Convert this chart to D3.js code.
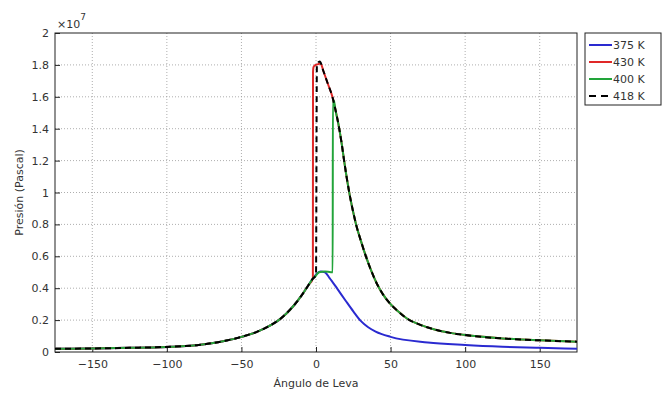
<!DOCTYPE html>
<html>
<head>
<meta charset="utf-8">
<script src="https://cdn.jsdelivr.net/npm/d3@7"></script>
<style>
  body { margin: 0; background: #fff; }
  svg { display: block; font-family: "DejaVu Sans", sans-serif; }
</style>
</head>
<body>
<svg id="chart" width="664" height="394"></svg>
<script>
// ---- Data (pressure in units of 1e7 Pa, angle in degrees) ----
const xTicks = [-150, -100, -50, 0, 50, 100, 150];
const yTicks = [0, 0.2, 0.4, 0.6, 0.8, 1, 1.2, 1.4, 1.6, 1.8, 2];
const seriesNames = ["375 K", "430 K", "400 K", "418 K"];
const seriesColors = ["#2a2ad0", "#e02828", "#22a43a", "#000000"];

// shared compression stroke
const compAngles = [-175, -150, -125, -100, -90, -80, -70, -60, -50, -40, -30, -25, -20, -15, -10, -5, -2.1];
const compValues = [0.02, 0.022, 0.026, 0.032, 0.036, 0.043, 0.055, 0.072, 0.095, 0.125, 0.17, 0.20, 0.24, 0.29, 0.35, 0.42, 0.46];

// motoring (375 K) after TDC
const blueAngles = [0, 3, 6, 9, 14, 20, 25, 30, 35, 40, 50, 75, 100, 125, 150, 175];
const blueValues = [0.485, 0.505, 0.50, 0.465, 0.40, 0.32, 0.255, 0.195, 0.155, 0.128, 0.095, 0.06, 0.044, 0.033, 0.026, 0.02];

// combustion peaks
const redAngles = [-2, -1.7, -1, 0, 1.5, 3];
const redValues = [1.755, 1.785, 1.795, 1.80, 1.805, 1.81];
const blackAngles = [0, 0.6, 2.5];
const blackValues = [0.48, 1.80, 1.822];
const greenAngles = [0, 2, 6, 10, 11.2, 11.3, 12];
const greenValues = [0.48, 0.50, 0.505, 0.50, 0.50, 1.58, 1.575];

// shared expansion stroke
const expAngles = [2.5, 5, 8, 11, 13, 15, 17, 19, 21, 23, 25, 27, 30, 34, 37, 41, 45, 50, 55, 61, 70, 80, 90, 100, 125, 150, 175];
const expValues = [1.82, 1.76, 1.68, 1.60, 1.52, 1.43, 1.32, 1.19, 1.07, 0.965, 0.875, 0.795, 0.70, 0.585, 0.51, 0.425, 0.36, 0.30, 0.255, 0.21, 0.17, 0.14, 0.12, 0.106, 0.085, 0.073, 0.065];

// ---- Build series ----
const zip = (a, v) => a.map((x, i) => [x, v[i]]);
const comp = zip(compAngles, compValues);
const exp = zip(expAngles, expValues);
const blue = comp.concat(zip(blueAngles, blueValues));
const red = comp.concat(zip(redAngles, redValues), exp.filter(d => d[0] > 3));
const green = comp.concat(zip(greenAngles, greenValues), exp.filter(d => d[0] > 12));
const black = comp.concat(zip(blackAngles, blackValues), exp.filter(d => d[0] > 2.5));
const series = [blue, red, green, black];

// ---- Layout ----
const svg = d3.select("#chart");
const m = { left: 55, right: 577, top: 33, bottom: 352 };
const x = d3.scaleLinear().domain([-175, 175]).range([m.left, m.right]);
const y = d3.scaleLinear().domain([0, 2]).range([m.bottom, m.top]);
const textColor = "#333";

// grid
const grid = svg.append("g");
grid.selectAll(".gx").data(xTicks).enter().append("line")
  .attr("x1", d => x(d)).attr("x2", d => x(d))
  .attr("y1", m.top).attr("y2", m.bottom)
  .attr("stroke", "#999").attr("stroke-width", 0.8).attr("stroke-dasharray", "1,2");
grid.selectAll(".gy").data(yTicks.filter(d => d > 0 && d < 2)).enter().append("line")
  .attr("x1", m.left).attr("x2", m.right)
  .attr("y1", d => y(d)).attr("y2", d => y(d))
  .attr("stroke", "#999").attr("stroke-width", 0.8).attr("stroke-dasharray", "1,2");

// axes
const xAxis = d3.axisBottom(x).tickValues(xTicks).tickSize(-5).tickPadding(8)
  .tickFormat(d => d < 0 ? "\u2212" + Math.abs(d) : d);
const yAxis = d3.axisLeft(y).tickValues(yTicks).tickSize(-5).tickPadding(6)
  .tickFormat(d => d3.format("~g")(d));
const gx = svg.append("g").attr("transform", `translate(0,${m.bottom})`).call(xAxis);
const gy = svg.append("g").attr("transform", `translate(${m.left},0)`).call(yAxis);
[gx, gy].forEach(g => {
  g.select(".domain").remove();
  g.selectAll("line").attr("stroke", "#222");
  g.selectAll("text").attr("fill", textColor).style("font-size", "11px").style("font-family", "DejaVu Sans, sans-serif");
});

// frame
svg.append("rect").attr("x", m.left).attr("y", m.top)
  .attr("width", m.right - m.left).attr("height", m.bottom - m.top)
  .attr("fill", "none").attr("stroke", "#222").attr("stroke-width", 1);

// lines
const line = d3.line().x(d => x(d[0])).y(d => y(d[1])).curve(d3.curveMonotoneX);
series.forEach((s, i) => {
  svg.append("path").datum(s)
    .attr("fill", "none")
    .attr("stroke", seriesColors[i])
    .attr("stroke-width", 2)
    .attr("stroke-linejoin", "round")
    .attr("stroke-dasharray", i === 3 ? "6,4" : null)
    .attr("d", line);
});

// exponent label
const ex = svg.append("text").attr("x", m.left + 2).attr("y", m.top - 5)
  .attr("fill", textColor).style("font-size", "11px");
ex.append("tspan").text("\u00d710");
ex.append("tspan").attr("dy", -8).style("font-size", "9px").text("7");

// axis labels
svg.append("text").attr("x", x(0)).attr("y", 387).attr("text-anchor", "middle")
  .attr("fill", textColor).style("font-size", "11px").text("Ángulo de Leva");
svg.append("text").attr("transform", `translate(23,${(m.top + m.bottom) / 2}) rotate(-90)`)
  .attr("text-anchor", "middle").attr("fill", textColor).style("font-size", "11px")
  .text("Presión (Pascal)");

// legend
const lg = svg.append("g");
lg.append("rect").attr("x", 585).attr("y", 33).attr("width", 76).attr("height", 72)
  .attr("fill", "#fff").attr("stroke", "#222").attr("stroke-width", 1);
seriesNames.forEach((n, i) => {
  const yy = 45 + i * 17;
  lg.append("line").attr("x1", 589).attr("x2", 612).attr("y1", yy).attr("y2", yy)
    .attr("stroke", seriesColors[i]).attr("stroke-width", 2)
    .attr("stroke-dasharray", i === 3 ? "7,5" : null);
  lg.append("text").attr("x", 613).attr("y", yy + 4).attr("fill", textColor)
    .style("font-size", "11px").text(n);
});
</script>
</body>
</html>
